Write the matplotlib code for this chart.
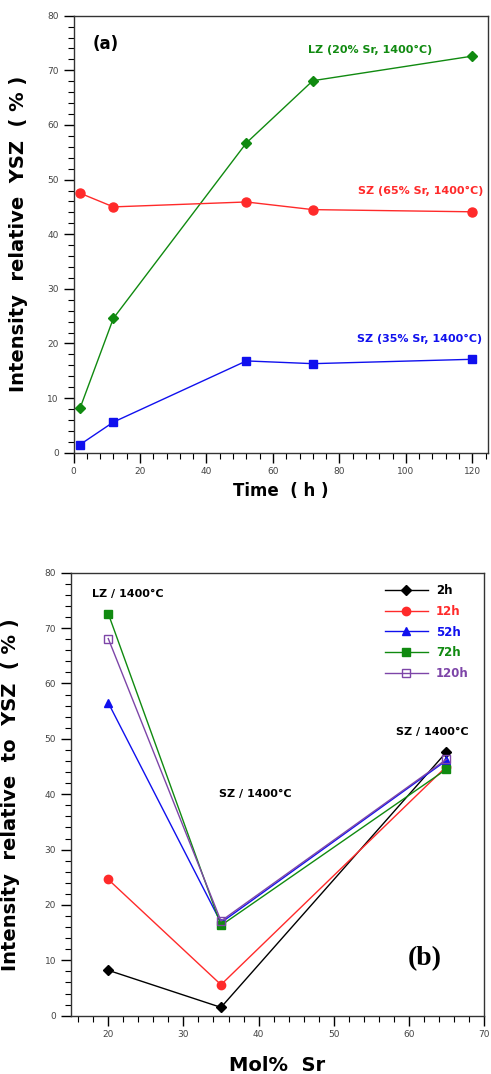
import numpy as np
import matplotlib
matplotlib.use("Agg")
import matplotlib.pyplot as plt
from matplotlib.ticker import MultipleLocator

# ── Panel (a): intensity vs time ──────────────────────────────────────────────
time_h   = [2, 12, 52, 72, 120]
lz_20    = [8.2, 24.6, 56.7, 68.1, 72.6]
sz_65    = [47.5, 45.0, 45.9, 44.5, 44.1]
sz_35    = [1.5, 5.6, 16.8, 16.3, 17.1]

# ── Panel (b): intensity vs mol% Sr ──────────────────────────────────────────
mol_sr   = [20, 35, 65]
b_labels = ["2h", "12h", "52h", "72h", "120h"]
b_values = [
    [8.2, 1.5, 47.6],
    [24.6, 5.6, 45.0],
    [56.5, 16.8, 46.1],
    [72.6, 16.3, 44.5],
    [68.1, 17.1, 46.3],
]

GREEN  = "#108a10"
RED    = "#ff2a2a"
BLUE   = "#1010ee"
PURPLE = "#7d45a8"
TICK_C = "#444444"

W, H = 491, 1074
fig = plt.figure(figsize=(W / 100, H / 100), dpi=100)


def px_axes(left, top, right, bottom):
    return fig.add_axes([left / W, 1 - bottom / H, (right - left) / W, (bottom - top) / H])


def px_text(x, y, s, **kw):
    # x, y in pixels measured from the top-left corner of the figure
    fig.text(x / W, 1 - y / H, s, **kw)


def style_axes(ax, xminor, yminor):
    ax.xaxis.set_minor_locator(MultipleLocator(xminor))
    ax.yaxis.set_minor_locator(MultipleLocator(yminor))
    ax.yaxis.set_major_locator(MultipleLocator(10))
    ax.tick_params(which="major", direction="out", length=7, width=1,
                   labelsize=6.5, labelcolor=TICK_C, top=False, right=False)
    ax.tick_params(which="minor", direction="out", length=4, width=0.8,
                   top=False, right=False)
    for s in ax.spines.values():
        s.set_color("#333333")
        s.set_linewidth(1)


# ── Panel (a) ─────────────────────────────────────────────────────────────────
ax1 = px_axes(73.5, 15.7, 488.3, 452.7)
ax1.plot(time_h, lz_20, color=GREEN, marker="D", markersize=5.5, linewidth=1)
ax1.plot(time_h, sz_65, color=RED, marker="o", markersize=6.5, linewidth=1)
ax1.plot(time_h, sz_35, color=BLUE, marker="s", markersize=6, linewidth=1)
ax1.set_xlim(0, 124.8)
ax1.set_ylim(0, 80)
ax1.xaxis.set_major_locator(MultipleLocator(20))
style_axes(ax1, 4, 2)
ax1.set_xlabel("Time  ( h )", fontsize=12, fontweight="bold", labelpad=4)
ax1.set_ylabel("Intensity  relative  YSZ  ( % )", fontsize=14, fontweight="bold",
               labelpad=14)
ax1.text(0.045, 0.955, "(a)", transform=ax1.transAxes, fontsize=12,
         fontweight="bold", va="top", ha="left")
px_text(370, 50, "LZ (20% Sr, 1400°C)", color=GREEN, fontsize=8,
        fontweight="bold", ha="center", va="center")
px_text(483, 191, "SZ (65% Sr, 1400°C)", color=RED, fontsize=8,
        fontweight="bold", ha="right", va="center")
px_text(482, 339, "SZ (35% Sr, 1400°C)", color=BLUE, fontsize=8,
        fontweight="bold", ha="right", va="center")

# ── Panel (b) ─────────────────────────────────────────────────────────────────
ax2 = px_axes(70.7, 572.7, 484.0, 1015.7)
b_colors  = ["black", RED, BLUE, GREEN, PURPLE]
b_markers = ["D", "o", "^", "s", "s"]
b_sizes   = [5, 6, 6, 6, 6]
for lab, vals, c, m, ms in zip(b_labels, b_values, b_colors, b_markers, b_sizes):
    face = "none" if lab == "120h" else c
    ax2.plot(mol_sr, vals, color=c, marker=m, markersize=ms, linewidth=1,
             markerfacecolor=face, label=lab)
ax2.set_xlim(15, 70)
ax2.set_ylim(0, 80)
ax2.xaxis.set_major_locator(MultipleLocator(10))
style_axes(ax2, 2, 2)
ax2.set_xlabel("Mol%  Sr", fontsize=14, fontweight="bold", labelpad=12)
ax2.set_ylabel("Intensity  relative  to  YSZ  ( % )", fontsize=14,
               fontweight="bold", labelpad=18)

leg = ax2.legend(loc="upper right", bbox_to_anchor=(0.98, 0.99), frameon=False,
                 fontsize=8.5, handlelength=3.6, labelspacing=0.65,
                 handletextpad=0.7, borderaxespad=0.2)
for txt, c in zip(leg.get_texts(), b_colors):
    txt.set_color(c)
    txt.set_fontweight("bold")

px_text(128, 594, "LZ / 1400°C", fontsize=8, fontweight="bold",
        ha="center", va="center")
px_text(255, 794, "SZ / 1400°C", fontsize=8, fontweight="bold",
        ha="center", va="center")
px_text(432, 732, "SZ / 1400°C", fontsize=8, fontweight="bold",
        ha="center", va="center")
px_text(425, 959, "(b)", fontsize=20, fontweight="bold",
        family="Liberation Serif", ha="center", va="center")

fig.savefig("out.png", dpi=100)
